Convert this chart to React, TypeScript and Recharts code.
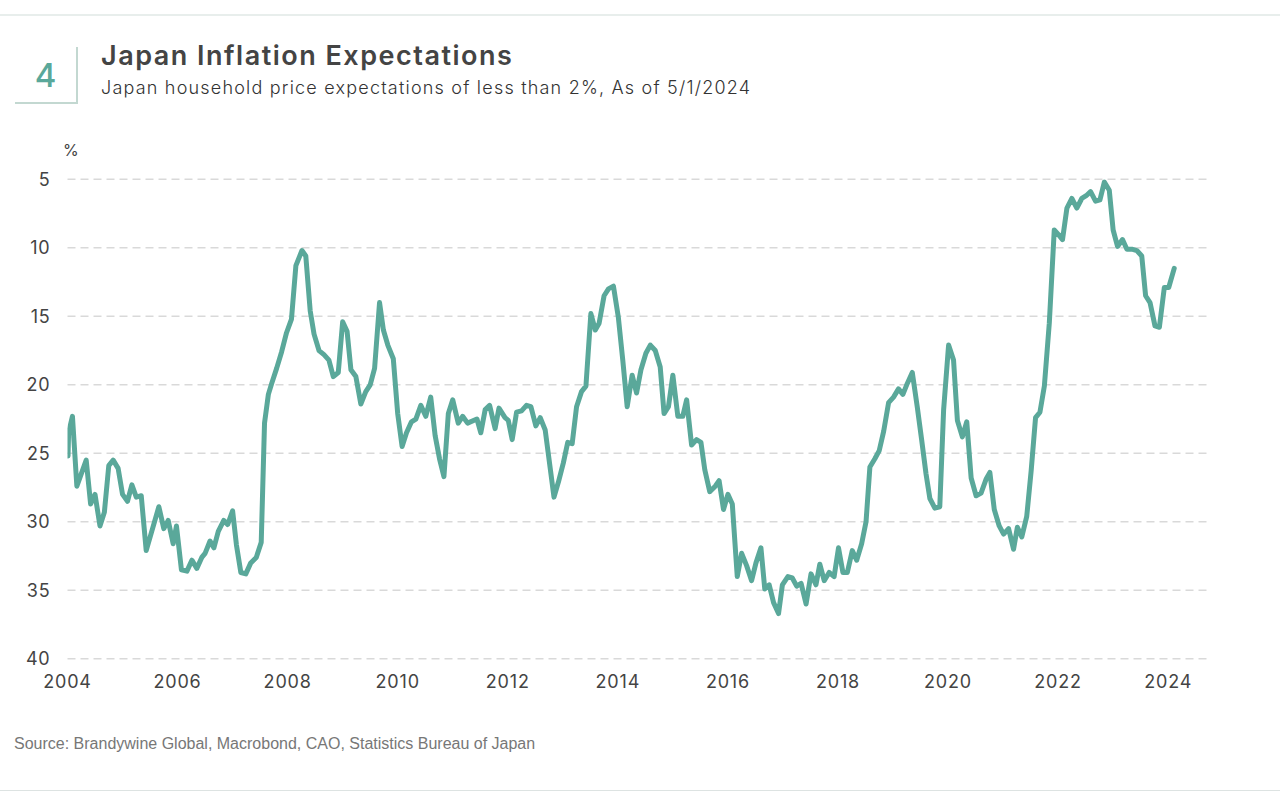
import { CartesianGrid, Line, LineChart, XAxis, YAxis } from 'recharts'

// survey month, as decimal year
const years = [
  2004.01, 2004.02, 2004.09, 2004.17, 2004.34, 2004.42, 2004.5, 2004.59, 2004.67, 2004.75,
  2004.83, 2004.92, 2005.0, 2005.09, 2005.17, 2005.25, 2005.34, 2005.43, 2005.66, 2005.75,
  2005.83, 2005.92, 2005.98, 2006.07, 2006.17, 2006.26, 2006.35, 2006.44, 2006.5, 2006.59,
  2006.66, 2006.74, 2006.84, 2006.91, 2007.0, 2007.07, 2007.15, 2007.24, 2007.33, 2007.43,
  2007.52, 2007.58, 2007.65, 2007.71, 2007.8, 2007.89, 2007.98, 2008.07, 2008.15, 2008.26,
  2008.33, 2008.41, 2008.48, 2008.57, 2008.66, 2008.75, 2008.83, 2008.92, 2009.0, 2009.08,
  2009.15, 2009.24, 2009.33, 2009.42, 2009.5, 2009.58, 2009.67, 2009.74, 2009.82, 2009.92,
  2010.0, 2010.08, 2010.16, 2010.25, 2010.33, 2010.42, 2010.51, 2010.6, 2010.68, 2010.76,
  2010.84, 2010.92, 2011.0, 2011.1, 2011.18, 2011.27, 2011.44, 2011.51, 2011.59, 2011.67,
  2011.77, 2011.84, 2011.95, 2012.01, 2012.08, 2012.16, 2012.25, 2012.34, 2012.42, 2012.51,
  2012.59, 2012.68, 2012.84, 2012.92, 2013.01, 2013.09, 2013.17, 2013.25, 2013.34, 2013.42,
  2013.51, 2013.59, 2013.66, 2013.75, 2013.83, 2013.92, 2014.01, 2014.09, 2014.17, 2014.26,
  2014.34, 2014.42, 2014.51, 2014.59, 2014.68, 2014.77, 2014.84, 2014.92, 2015.0, 2015.09,
  2015.18, 2015.25, 2015.34, 2015.43, 2015.51, 2015.58, 2015.67, 2015.77, 2015.84, 2015.92,
  2016.0, 2016.08, 2016.17, 2016.25, 2016.34, 2016.43, 2016.51, 2016.6, 2016.67, 2016.75,
  2016.83, 2016.92, 2016.99, 2017.09, 2017.17, 2017.25, 2017.33, 2017.42, 2017.51, 2017.6,
  2017.67, 2017.75, 2017.84, 2017.93, 2018.01, 2018.09, 2018.17, 2018.26, 2018.34, 2018.43,
  2018.51, 2018.58, 2018.67, 2018.75, 2018.83, 2018.92, 2019.01, 2019.1, 2019.18, 2019.26,
  2019.35, 2019.44, 2019.52, 2019.6, 2019.67, 2019.76, 2019.85, 2019.92, 2020.01, 2020.1,
  2020.17, 2020.26, 2020.34, 2020.42, 2020.51, 2020.6, 2020.69, 2020.76, 2020.84, 2020.93,
  2021.01, 2021.1, 2021.19, 2021.26, 2021.34, 2021.43, 2021.51, 2021.59, 2021.67, 2021.75,
  2021.84, 2021.93, 2022.0, 2022.08, 2022.16, 2022.25, 2022.34, 2022.43, 2022.51, 2022.59,
  2022.68, 2022.76, 2022.84, 2022.93, 2023.0, 2023.08, 2023.17, 2023.25, 2023.34, 2023.43,
  2023.52, 2023.59, 2023.67, 2023.76, 2023.84, 2023.93, 2024.01, 2024.11,
]

// share of households expecting prices to rise less than 2%, %
const lessThan2 = [
  25.2, 23.5, 22.3, 27.4, 25.5, 28.7, 28.0, 30.3, 29.3, 25.9,
  25.5, 26.1, 28.0, 28.5, 27.3, 28.2, 28.1, 32.1, 28.9, 30.5,
  29.9, 31.6, 30.3, 33.5, 33.6, 32.8, 33.4, 32.6, 32.3, 31.4,
  31.9, 30.7, 29.9, 30.2, 29.2, 31.7, 33.7, 33.8, 33.0, 32.6,
  31.5, 22.8, 20.7, 19.9, 18.8, 17.6, 16.2, 15.2, 11.3, 10.2,
  10.6, 14.6, 16.3, 17.5, 17.8, 18.2, 19.4, 19.1, 15.4, 16.1,
  18.9, 19.4, 21.4, 20.5, 20.0, 18.8, 14.0, 16.0, 17.1, 18.1,
  22.1, 24.5, 23.5, 22.7, 22.5, 21.5, 22.3, 20.9, 23.7, 25.4,
  26.7, 22.1, 21.1, 22.8, 22.3, 22.8, 22.5, 23.5, 21.8, 21.5,
  23.2, 21.7, 22.4, 22.6, 24.0, 22.0, 21.9, 21.5, 21.6, 23.0,
  22.4, 23.3, 28.2, 27.1, 25.7, 24.2, 24.3, 21.6, 20.5, 20.1,
  14.8, 16.0, 15.5, 13.5, 13.0, 12.8, 15.1, 18.2, 21.6, 19.3,
  20.6, 18.9, 17.7, 17.1, 17.5, 18.7, 22.1, 21.6, 19.3, 22.3,
  22.3, 21.1, 24.4, 24.0, 24.2, 26.2, 27.8, 27.4, 27.0, 29.1,
  28.0, 28.7, 34.0, 32.3, 33.2, 34.3, 33.0, 31.9, 34.9, 34.6,
  35.9, 36.7, 34.6, 34.0, 34.1, 34.7, 34.5, 36.0, 33.8, 34.6,
  33.1, 34.3, 33.7, 34.0, 31.9, 33.7, 33.7, 32.1, 32.8, 31.6,
  30.0, 26.0, 25.4, 24.8, 23.4, 21.3, 20.9, 20.3, 20.7, 19.9,
  19.1, 21.6, 24.0, 26.5, 28.3, 29.0, 28.9, 21.8, 17.1, 18.2,
  22.6, 23.8, 22.7, 26.8, 28.1, 27.9, 26.9, 26.4, 29.1, 30.3,
  30.9, 30.5, 32.0, 30.4, 31.1, 29.6, 26.3, 22.4, 22.0, 20.1,
  15.5, 8.7, 9.0, 9.4, 7.1, 6.4, 7.1, 6.4, 6.2, 5.9,
  6.6, 6.5, 5.2, 5.8, 8.7, 9.9, 9.4, 10.1, 10.1, 10.2,
  10.6, 13.5, 14.0, 15.7, 15.8, 12.9, 12.9, 11.5,
]

const yearTicks = [2004, 2006, 2008, 2010, 2012, 2014, 2016, 2018, 2020, 2022, 2024]
const pctTicks = [5, 10, 15, 20, 25, 30, 35, 40]

const data = years.map((year, i) => ({ year, value: lessThan2[i] }))

const teal = '#5aa89a'
const textColor = '#444444'

export default function App() {
  return (
    <div
      style={{
        position: 'absolute',
        left: 0,
        top: 0,
        width: 1280,
        height: 805,
        background: '#ffffff',
        fontFamily: 'Inter, Lato, sans-serif',
        overflow: 'hidden',
      }}
    >
      {/* header rules */}
      <div style={{ position: 'absolute', left: 0, top: 14, width: 1280, height: 2, background: '#e8eeec' }} />
      <div style={{ position: 'absolute', left: 76, top: 47, width: 2, height: 56, background: '#c3d8d1' }} />
      <div style={{ position: 'absolute', left: 15, top: 102, width: 63, height: 2, background: '#c3d8d1' }} />
      <div
        style={{
          position: 'absolute',
          left: 15,
          top: 55,
          width: 61,
          textAlign: 'center',
          fontSize: 33,
          lineHeight: '40px',
          color: teal,
          fontWeight: 500,
        }}
      >
        4
      </div>
      <div
        style={{
          position: 'absolute',
          left: 101,
          top: 40,
          fontSize: 27,
          lineHeight: '32px',
          fontWeight: 600,
          letterSpacing: '1.5px',
          color: textColor,
          whiteSpace: 'nowrap',
        }}
      >
        Japan Inflation Expectations
      </div>
      <div
        style={{
          position: 'absolute',
          left: 101,
          top: 77,
          fontSize: 18,
          lineHeight: '22px',
          fontWeight: 300,
          letterSpacing: '1.2px',
          color: '#333333',
          whiteSpace: 'nowrap',
        }}
      >
        Japan household price expectations of less than 2%, As of 5/1/2024
      </div>

      {/* unit label */}
      <div
        style={{
          position: 'absolute',
          left: 63,
          top: 140,
          fontSize: 16,
          lineHeight: '20px',
          color: textColor,
        }}
      >
        %
      </div>

      <div style={{ position: 'absolute', left: 0, top: 0 }}>
        <LineChart
          width={1280}
          height={720}
          data={data}
          margin={{ top: 179.3, right: 70, left: 7.5, bottom: 21.2 }}
          style={{ letterSpacing: '0.8px' }}
        >
          <CartesianGrid
            horizontal
            vertical={false}
            stroke="#d9d9d9"
            strokeWidth={1.5}
            strokeDasharray="8 5"
          />
          <XAxis
            dataKey="year"
            type="number"
            domain={[2004, 2024.76]}
            ticks={yearTicks}
            allowDataOverflow
            tickLine={false}
            axisLine={false}
            tickSize={0}
            tickMargin={16}
            height={40}
            tick={{ fill: textColor, fontSize: 18, fontFamily: 'Inter, Lato, sans-serif' }}
          />
          <YAxis
            type="number"
            reversed
            domain={[5, 40]}
            ticks={pctTicks}
            allowDataOverflow
            tickLine={false}
            axisLine={false}
            tickSize={0}
            tickMargin={17}
            width={60}
            tick={{ fill: textColor, fontSize: 18, fontFamily: 'Inter, Lato, sans-serif' }}
          />
          <Line
            type="linear"
            dataKey="value"
            stroke={teal}
            strokeWidth={5}
            strokeLinejoin="round"
            strokeLinecap="round"
            dot={false}
            activeDot={false}
            isAnimationActive={false}
          />
        </LineChart>
      </div>

      {/* source */}
      <div
        style={{
          position: 'absolute',
          left: 14,
          top: 734,
          fontSize: 16,
          lineHeight: '20px',
          color: '#777777',
          fontFamily: "'Liberation Sans Narrow', 'Arial Narrow', 'Liberation Sans', sans-serif",
          whiteSpace: 'nowrap',
        }}
      >
        Source: Brandywine Global, Macrobond, CAO, Statistics Bureau of Japan
      </div>
      <div style={{ position: 'absolute', left: 0, top: 790, width: 1280, height: 1, background: '#dde3e2' }} />
    </div>
  )
}
